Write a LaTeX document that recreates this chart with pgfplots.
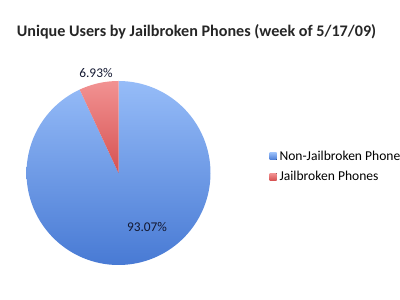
\documentclass[border=0pt]{standalone}
\usepackage{pgfplots}
\pgfplotsset{compat=1.18}
\usepackage{fontspec}
\setmainfont{Carlito}
\definecolor{bluetop}{RGB}{150,188,248}
\definecolor{bluebot}{RGB}{72,122,212}
\definecolor{redtop}{RGB}{242,146,146}
\definecolor{redbot}{RGB}{214,82,82}
\definecolor{lbl}{RGB}{20,25,50}
% data: share in percent
\def\nonjb{93.07}
\def\jb{6.93}
\pgfmathsetmacro\angA{90}
\pgfmathsetmacro\angB{90+\jb*3.6}
\pgfmathsetmacro\angC{\angB+\nonjb*3.6}
\begin{document}
\begin{tikzpicture}
\useasboundingbox (0,0) rectangle (400bp,300bp);
\node[font=\fontsize{16.2}{19}\selectfont\bfseries, text=black!85] at (196.5bp,268bp) {Unique Users by Jailbroken Phones (week of 5/17/09)};
\begin{axis}[
  at={(118.5bp,127bp)}, anchor=center,
  x=92bp, y=92bp,
  xmin=-1, xmax=1, ymin=-1, ymax=1,
  hide axis, clip=false,
  legend style={at={(axis description cs:1.32,0.535)}, anchor=west, draw=none, fill=none,
    font=\fontsize{13.6}{16}\selectfont, row sep=7.5bp, inner sep=0pt,
    nodes={inner xsep=3bp, inner ysep=1bp}},
  legend cell align=left,
  legend image code/.code={\fill[#1] (0bp,-3.5bp) rectangle (7bp,3.5bp);},
]
\addplot[draw=none, top color=bluetop, bottom color=bluebot, domain=\angB:\angC, samples=120, smooth]
  ({cos(x)},{sin(x)}) -- (axis cs:0,0) -- cycle;
\addlegendentry{Non-Jailbroken Phones}
\addplot[draw=none, top color=redtop, bottom color=redbot, domain=\angA:\angB, samples=20, smooth]
  ({cos(x)},{sin(x)}) -- (axis cs:0,0) -- cycle;
\addlegendentry{Jailbroken Phones}
\node[font=\fontsize{13.4}{15}\selectfont, text=lbl] at (axis cs:-0.245,1.087) {6.93\%};
\node[font=\fontsize{13.4}{15}\selectfont, text=lbl] at (axis cs:0.31,-0.587) {93.07\%};
\end{axis}
\end{tikzpicture}
\end{document}
